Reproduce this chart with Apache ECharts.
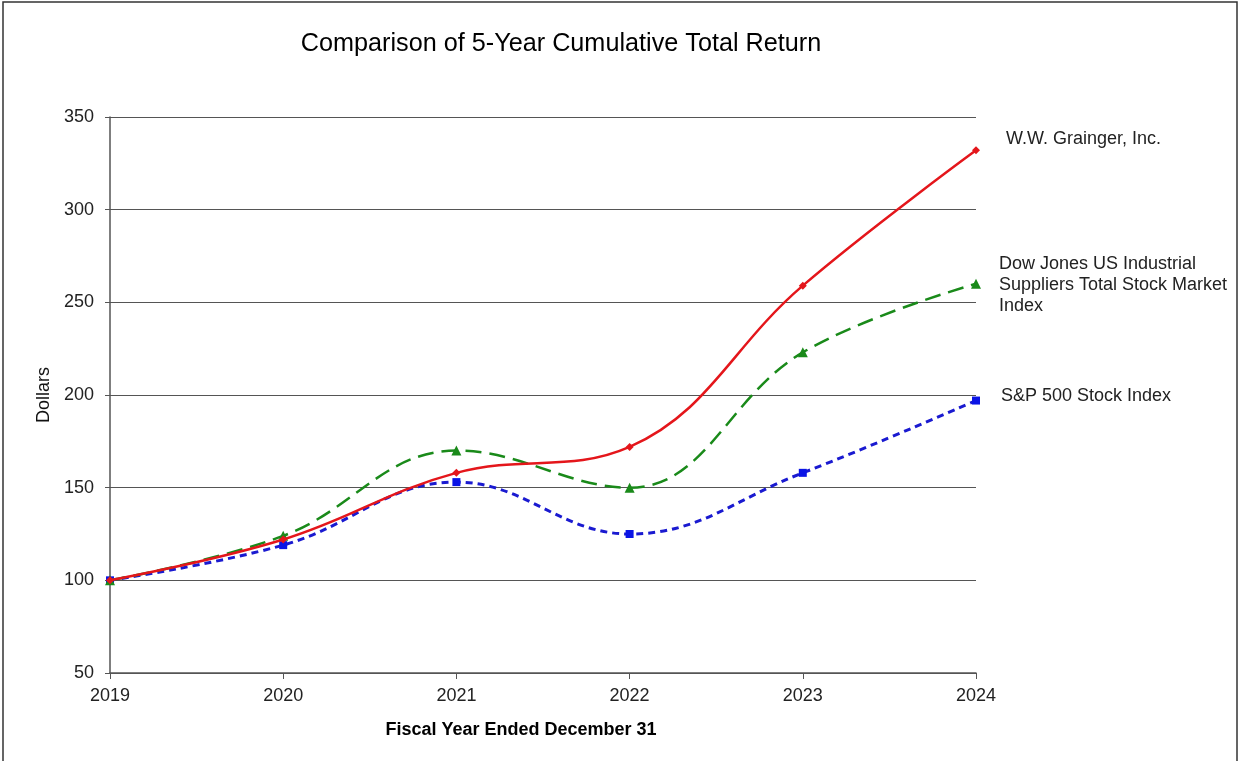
<!DOCTYPE html>
<html>
<head>
<meta charset="utf-8">
<script src="https://cdn.jsdelivr.net/npm/echarts@6/dist/echarts.min.js"></script>
<style>
  html, body { margin: 0; padding: 0; background: #fff; }
  #chart { width: 1241px; height: 761px; }
</style>
</head>
<body>
<div id="chart"></div>
<script>
// data
const years = ['2019', '2020', '2021', '2022', '2023', '2024']
const grainger = [100, 122, 158, 172, 259, 332]
const dowJones = [100, 124, 170, 150, 223, 260]
const sp500 = [100, 119, 153, 125, 158, 197]
const yTicks = { min: 50, max: 350, step: 50 }

const chart = echarts.init(document.getElementById('chart'))
const labelFont = 'Liberation Sans, Arial, sans-serif'

const option = {
  backgroundColor: '#fff',
  animation: false,
  grid: { left: 110, right: 265, top: 117, bottom: 88 },
  xAxis: {
    type: 'category',
    data: years,
    boundaryGap: false,
    axisLine: { lineStyle: { color: '#555', width: 1.5 } },
    axisTick: { show: true, length: 6, lineStyle: { color: '#555' } },
    axisLabel: { fontFamily: labelFont, fontSize: 18, color: '#222', margin: 14 }
  },
  yAxis: {
    type: 'value',
    min: yTicks.min,
    max: yTicks.max,
    interval: yTicks.step,
    name: 'Dollars',
    nameLocation: 'middle',
    nameGap: 56,
    nameTextStyle: { fontFamily: labelFont, fontSize: 18, color: '#111' },
    axisLine: { show: true, lineStyle: { color: '#555', width: 1.5 } },
    axisTick: { show: true, length: 5, lineStyle: { color: '#555' } },
    axisLabel: { fontFamily: labelFont, fontSize: 18, color: '#222', margin: 16 },
    splitLine: { lineStyle: { color: '#555', width: 1.2 } }
  },
  series: [
    {
      name: 'S&P 500 Stock Index',
      type: 'line',
      data: sp500,
      smooth: 0.4,
      symbol: 'rect',
      symbolSize: 8,
      itemStyle: { color: '#0a14e6' },
      lineStyle: { color: '#1a1ad0', width: 3, type: [7, 5] },
      z: 3
    },
    {
      name: 'Dow Jones US Industrial Suppliers Total Stock Market Index',
      type: 'line',
      data: dowJones,
      smooth: 0.4,
      symbol: 'triangle',
      symbolSize: 10,
      itemStyle: { color: '#1a8a1a' },
      lineStyle: { color: '#1a8a1a', width: 2.5, type: [16, 8] },
      z: 4
    },
    {
      name: 'W.W. Grainger, Inc.',
      type: 'line',
      data: grainger,
      smooth: 0.4,
      symbol: 'diamond',
      symbolSize: 8,
      itemStyle: { color: '#e4161b' },
      lineStyle: { color: '#e4161b', width: 2.5 },
      z: 5
    }
  ],
  graphic: [
    {
      type: 'rect',
      shape: { x: 3, y: 2, width: 1234, height: 770 },
      style: { fill: 'none', stroke: '#333', lineWidth: 1.5 },
      silent: true
    },
    {
      type: 'text', x: 561, y: 44, scaleX: 0.97,
      style: { text: 'Comparison of 5-Year Cumulative Total Return', font: '26px ' + labelFont, fill: '#000', align: 'center', verticalAlign: 'middle' }
    },
    {
      type: 'text', x: 521, y: 730,
      style: { text: 'Fiscal Year Ended December 31', font: 'bold 18px ' + labelFont, fill: '#000', align: 'center', verticalAlign: 'middle' }
    },
    {
      type: 'text', x: 1006, y: 139,
      style: { text: 'W.W. Grainger, Inc.', font: '18px ' + labelFont, fill: '#222', verticalAlign: 'middle' }
    },
    {
      type: 'text', x: 999, y: 253.5,
      style: { text: 'Dow Jones US Industrial\nSuppliers Total Stock Market\nIndex', font: '18px ' + labelFont, fill: '#222', lineHeight: 21 }
    },
    {
      type: 'text', x: 1001, y: 396,
      style: { text: 'S&P 500 Stock Index', font: '18px ' + labelFont, fill: '#222', verticalAlign: 'middle' }
    }
  ]
}

chart.setOption(option)
</script>
</body>
</html>
